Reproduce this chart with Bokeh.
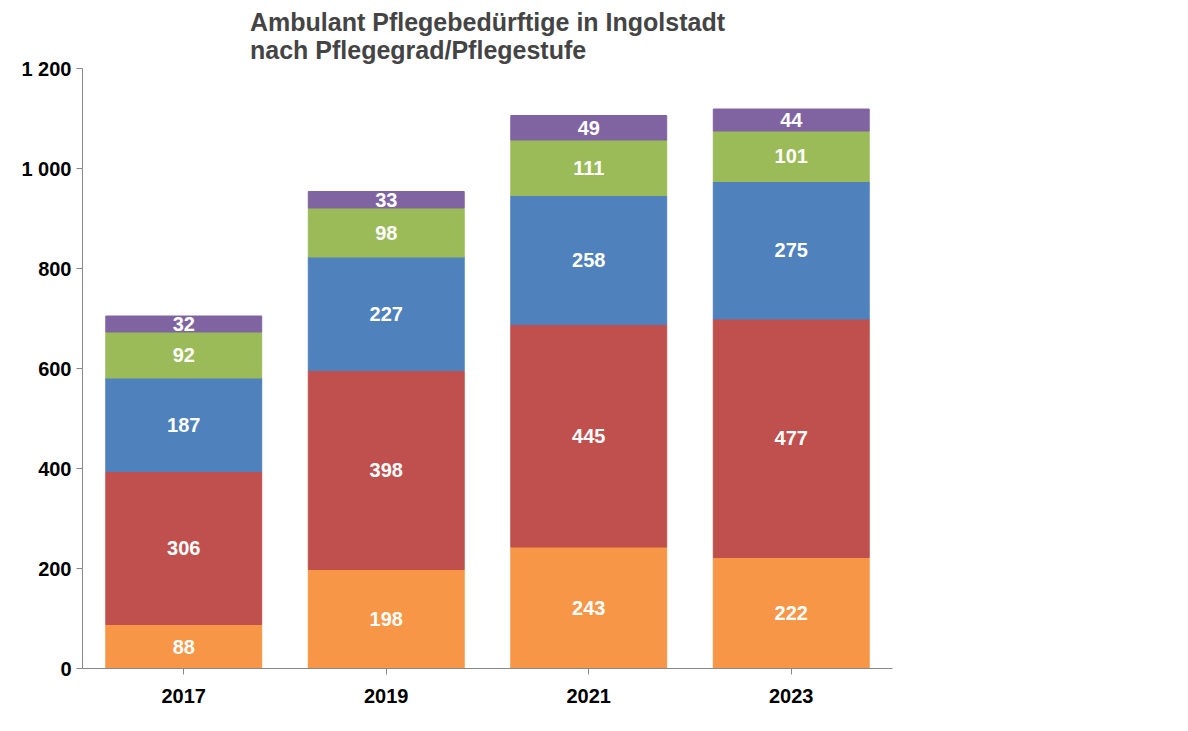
from bokeh.plotting import figure
from bokeh.models import ColumnDataSource, Label, FixedTicker
from bokeh.core.properties import value
from bokeh.embed import file_html
from bokeh.resources import INLINE

years = ["2017", "2019", "2021", "2023"]
pg1 = [88, 198, 243, 222]
pg2 = [306, 398, 445, 477]
pg3 = [187, 227, 258, 275]
pg4 = [92, 98, 111, 101]
pg5 = [32, 33, 49, 44]
names = ["Pflegegrad 1", "Pflegegrad 2", "Pflegegrad 3", "Pflegegrad 4", "Pflegegrad 5"]
colors = ["#F79646", "#C0504D", "#4F81BD", "#9BBB59", "#8064A2"]
text_colors = ["#E46C0A", "#A33B38", "#2F5D95", "#77933C", "#604A7B"]
series = [pg1, pg2, pg3, pg4, pg5]
keys = ["p1", "p2", "p3", "p4", "p5"]

data = {"years": years}
for k, s in zip(keys, series):
    data[k] = s
src = ColumnDataSource(data)

p = figure(x_range=years, y_range=(0, 1200), width=1172, height=715,
           output_backend="svg", toolbar_location=None,
           min_border_left=82, min_border_right=280, min_border_top=68, min_border_bottom=47)
p.vbar_stack(keys, x="years", width=0.77, color=colors, source=src)

ff = "Liberation Sans"
lab_x, lab_y, lab_t = [], [], []
for i, y in enumerate(years):
    base = 0
    for s in series:
        lab_x.append(y); lab_y.append(base + s[i] / 2); lab_t.append(str(s[i]))
        base += s[i]
p.text(lab_x, lab_y, text=lab_t, text_color="white", text_font=value(ff),
       text_font_style="bold", text_font_size="20px", text_align="center", text_baseline="middle")

p.title.text = "Ambulant Pflegebedürftige in Ingolstadt\nnach Pflegegrad/Pflegestufe"
p.title.align = "center"
p.title.text_font = ff
p.title.text_font_size = "25px"
p.title.text_font_style = "bold"
p.title.offset = -15

p.xgrid.visible = False
p.ygrid.visible = False
p.outline_line_color = None
p.yaxis.ticker = FixedTicker(ticks=list(range(0, 1201, 200)))
p.yaxis.major_label_overrides = {1000: "1 000", 1200: "1 200"}
for ax in (p.xaxis, p.yaxis):
    ax.major_label_text_font = ff
    ax.major_label_text_font_style = "bold"
    ax.major_label_text_font_size = "20px"
    ax.major_label_text_color = "black"
    ax.axis_line_color = "#888888"
    ax.major_tick_line_color = "#888888"
    ax.minor_tick_line_color = None
p.yaxis.major_tick_in = 0
p.yaxis.major_tick_out = 6
p.xaxis.major_tick_in = 0
p.xaxis.major_tick_out = 6
p.xaxis.major_label_standoff = 14

leg_y = [184, 414, 644, 876, 1106]
for n, c, tc, yy in zip(names, colors, text_colors, leg_y):
    p.add_layout(Label(x=952, x_units="screen", y=yy, text="■", text_color=c,
                       text_font_size="16px", text_font="DejaVu Sans", text_baseline="middle"))
    p.add_layout(Label(x=975, x_units="screen", y=yy, text=n, text_color=tc,
                       text_font=ff, text_font_style="bold", text_font_size="19px",
                       text_baseline="middle"))

open("out.html", "w").write(file_html(p, INLINE))
